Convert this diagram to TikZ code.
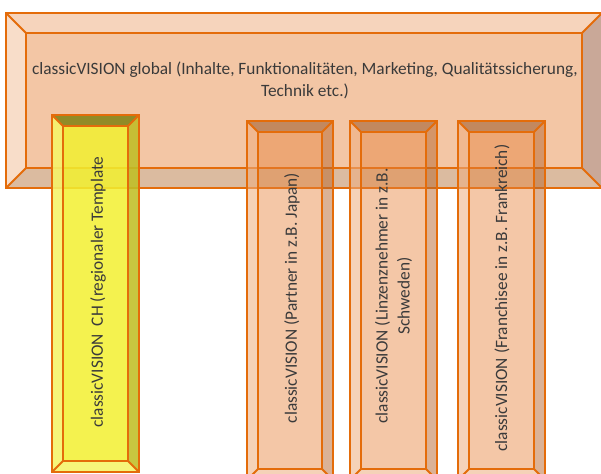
\documentclass[tikz,border=0pt]{standalone}
\usepackage{fontspec}
\setmainfont{Carlito}
\usetikzlibrary{positioning}

\definecolor{cvline}{RGB}{228,108,10}
\definecolor{cvtext}{RGB}{58,58,58}
\definecolor{cvface}{RGB}{243,198,165}
\definecolor{cvtop}{RGB}{246,212,188}
\definecolor{cvleft}{RGB}{248,221,201}
\definecolor{cvbottom}{RGB}{219,187,160}
\definecolor{cvright}{RGB}{201,168,152}
\definecolor{cvorange}{RGB}{230,130,60}
\definecolor{cvyellow}{RGB}{242,240,48}

% bevel box: x1,y1,x2,y2,depth,style prefix
\newcommand{\bevelbox}[6]{%
  \fill[#6 face] (#1,#2) rectangle (#3,#4);
  \fill[#6 top] (#1,#2) -- (#3,#2) -- ({#3-#5},{#2+#5}) -- ({#1+#5},{#2+#5}) -- cycle;
  \fill[#6 bottom] (#1,#4) -- (#3,#4) -- ({#3-#5},{#4-#5}) -- ({#1+#5},{#4-#5}) -- cycle;
  \fill[#6 left] (#1,#2) -- ({#1+#5},{#2+#5}) -- ({#1+#5},{#4-#5}) -- (#1,#4) -- cycle;
  \fill[#6 right] (#3,#2) -- ({#3-#5},{#2+#5}) -- ({#3-#5},{#4-#5}) -- (#3,#4) -- cycle;
  \draw[edge] (#1,#2) rectangle (#3,#4) ({#1+#5},{#2+#5}) rectangle ({#3-#5},{#4-#5})
    (#1,#2) -- ({#1+#5},{#2+#5}) (#3,#2) -- ({#3-#5},{#2+#5})
    (#1,#4) -- ({#1+#5},{#4-#5}) (#3,#4) -- ({#3-#5},{#4-#5});
}

\begin{document}
\begin{tikzpicture}[x=1pt,y=-1pt,
    edge/.style={draw=cvline,line width=1.8pt,line join=miter},
    glob face/.style={fill=cvface},
    glob top/.style={fill=cvtop},
    glob left/.style={fill=cvleft},
    glob bottom/.style={fill=cvbottom},
    glob right/.style={fill=cvright},
    col face/.style={fill=cvorange,fill opacity=0.45},
    col top/.style={fill=black,fill opacity=0.18},
    col left/.style={fill=white,fill opacity=0.2},
    col bottom/.style={fill=white,fill opacity=0.2},
    col right/.style={fill=black,fill opacity=0.1},
    ch face/.style={fill=cvyellow,fill opacity=0.85},
    ch top/.style={fill=black,fill opacity=0.4},
    ch left/.style={fill=white,fill opacity=0.25},
    ch bottom/.style={fill=white,fill opacity=0.25},
    ch right/.style={fill=black,fill opacity=0.18},
    boxtext/.style={text=cvtext,align=center,font=\fontsize{17.3}{22}\selectfont},
    coltext/.style={boxtext,rotate=90}]

    \clip (0,0) rectangle (601,473);

    %global frame
    \bevelbox{6}{13}{602}{188}{20}{glob}
    \node[boxtext] (global) at (305,80.5) {classicVISION global (Inhalte, Funktionalitäten, Marketing, Qualitätssicherung,\\Technik etc.)};

    %regional columns
    \bevelbox{52}{115}{139}{472}{11}{ch}
    \bevelbox{247}{121}{333}{480}{11}{col}
    \bevelbox{350}{121}{437}{480}{11}{col}
    \bevelbox{458}{121}{545}{480}{11}{col}

    \node[coltext] (ch) at (98,292) {classicVISION\ \ CH (regionaler Template};
    \node[coltext] (japan) at (292,298) {classicVISION (Partner in z.B. Japan)};
    \node[coltext] (schweden) at (393.5,296) {classicVISION (Linzenznehmer in z.B.\\Schweden)};
    \node[coltext] (frankreich) at (502,298) {classicVISION (Franchisee in z.B. Frankreich)};

\end{tikzpicture}
\end{document}
